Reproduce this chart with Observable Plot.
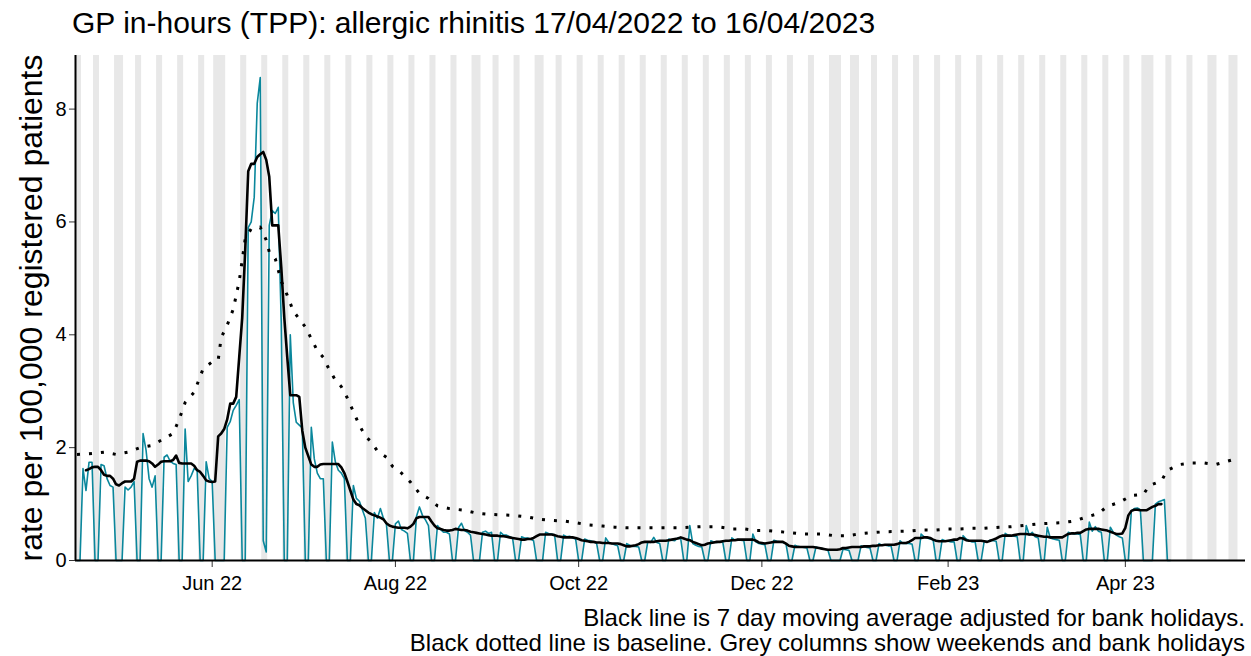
<!DOCTYPE html>
<html><head><meta charset="utf-8">
<script src="https://cdn.jsdelivr.net/npm/d3@7"></script>
<script src="https://cdn.jsdelivr.net/npm/@observablehq/plot@0.6"></script>
<style>
html,body{margin:0;padding:0;background:#fff;}
body{width:1251px;height:656px;overflow:hidden;font-family:"Liberation Sans",Arial,sans-serif;color:#000;}
#title{height:45px;line-height:45px;font-size:30px;padding-left:72px;white-space:nowrap;}
#chart{height:560px;}
#caption{font-size:24px;line-height:25px;text-align:right;padding-right:6px;white-space:nowrap;}
</style></head><body>
<div id="title">GP in-hours (TPP): allergic rhinitis 17/04/2022 to 16/04/2023</div>
<div id="chart"></div>
<div id="caption">Black line is 7 day moving average adjusted for bank holidays.<br>Black dotted line is baseline. Grey columns show weekends and bank holidays</div>
<script>
// ---- data (daily, starting Sunday 17/04/2022; rows are Sun..Sat) ----
const firstDay = "2022-04-17";
const dailyRate = [
0,0,1.63,1.24,1.74,1.74,0,
0,1.70,1.68,1.45,1.33,1.30,0,
0,0,1.30,1.25,1.30,1.40,0,
0,2.25,1.95,1.45,1.30,1.50,0,
0,1.83,1.87,1.76,1.72,1.70,0,
0,2.33,1.40,1.50,1.63,1.60,0,
0,1.75,1.45,1.40,0,0,0,
0,2.36,2.46,2.66,2.75,2.85,0,
0,5.90,6.00,6.44,8.10,8.56,0.35,
0.15,5.94,6.20,6.15,6.26,4.20,0,
0,4.00,2.80,2.45,2.40,2.35,0,
0,2.36,1.80,1.55,1.45,1.45,0,
0,2.10,1.75,1.60,1.55,1.45,0,
0,1.33,1.10,1.05,0.90,0.75,0,
0,0.85,0.75,0.92,0.75,0.65,0,
0,0.65,0.70,0.55,0.52,0.48,0,
0,0.78,0.95,0.80,0.72,0.62,0,
0,0.62,0.55,0.50,0.50,0.47,0,
0,0.58,0.66,0.53,0.50,0.45,0,
0,0,0.50,0.52,0.48,0.50,0,
0,0.50,0.45,0.45,0.42,0.40,0,
0,0.42,0.40,0.40,0.38,0.35,0,
0,0,0.50,0.48,0.47,0.45,0,
0,0.45,0.42,0.43,0.40,0.38,0,
0,0.38,0.36,0.35,0.33,0.30,0,
0,0.40,0.32,0.30,0.28,0.26,0,
0,0.30,0.27,0.25,0.25,0.24,0,
0,0.33,0.32,0.41,0.32,0.30,0,
0,0.38,0.36,0.35,0.40,0.38,0,
0,0.62,0.30,0.27,0.25,0.24,0,
0,0.35,0.33,0.32,0.33,0.32,0,
0,0.40,0.36,0.37,0.36,0.35,0,
0,0.47,0.33,0.30,0.29,0.28,0,
0,0.36,0.34,0.33,0.32,0.30,0,
0,0.27,0.25,0.24,0.23,0.22,0,
0,0.24,0.22,0.21,0.20,0.18,0,
0,0,0,0.20,0.19,0.18,0,
0,0,0.26,0.24,0.23,0.22,0,
0,0.30,0.27,0.27,0.26,0.26,0,
0,0.35,0.30,0.30,0.30,0.29,0,
0,0.47,0.42,0.40,0.38,0.37,0,
0,0.37,0.35,0.34,0.33,0.33,0,
0,0.44,0.38,0.35,0.33,0.33,0,
0,0.34,0.33,0.36,0.35,0.34,0,
0,0.48,0.45,0.44,0.43,0.42,0,
0,0.62,0.45,0.50,0.42,0.40,0,
0,0.59,0.40,0.38,0.37,0.36,0,
0,0.50,0.48,0.47,0.47,0.46,0,
0,0.68,0.52,0.60,0.52,0.50,0,
0,0.59,0.50,0.45,0.42,0.40,0,
0,0.88,0.92,0.93,0.90,0,0,
0,0,1.00,1.04,1.06,1.08,0,
0
];
const movingAverage = [
null,null,null,1.60,1.62,1.65,1.66,
1.66,1.60,1.52,1.50,1.50,1.45,1.35,
1.33,1.37,1.40,1.40,1.40,1.45,1.75,
1.77,1.77,1.77,1.76,1.72,1.66,1.70,
1.75,1.76,1.76,1.76,1.78,1.86,1.73,
1.72,1.72,1.72,1.72,1.68,1.60,1.57,
1.50,1.42,1.40,1.39,1.40,2.20,2.25,
2.33,2.50,2.78,2.78,2.90,3.60,4.30,
5.50,6.90,7.03,7.03,7.15,7.20,7.24,
7.10,6.80,5.94,5.94,5.94,5.20,4.31,
3.60,2.93,2.93,2.93,2.90,2.30,2.00,
1.85,1.70,1.66,1.66,1.70,1.71,1.71,
1.71,1.71,1.71,1.71,1.65,1.55,1.40,
1.24,1.08,1.00,0.98,0.93,0.89,0.85,
0.82,0.80,0.78,0.76,0.73,0.66,0.62,
0.60,0.59,0.58,0.58,0.58,0.57,0.60,
0.65,0.75,0.77,0.77,0.77,0.77,0.69,
0.62,0.57,0.56,0.54,0.53,0.53,0.54,
0.56,0.55,0.54,0.54,0.53,0.51,0.50,
0.49,0.48,0.47,0.46,0.45,0.44,0.44,
0.44,0.43,0.43,0.42,0.41,0.40,0.39,
0.38,0.37,0.37,0.38,0.38,0.40,0.43,
0.46,0.46,0.46,0.46,0.46,0.45,0.43,
0.42,0.41,0.41,0.41,0.41,0.40,0.38,
0.36,0.35,0.34,0.33,0.33,0.32,0.32,
0.31,0.31,0.31,0.30,0.30,0.30,0.29,
0.27,0.25,0.25,0.26,0.27,0.29,0.32,
0.33,0.33,0.33,0.33,0.34,0.35,0.35,
0.35,0.36,0.37,0.38,0.39,0.41,0.39,
0.37,0.36,0.33,0.31,0.29,0.27,0.28,
0.30,0.31,0.32,0.33,0.33,0.34,0.35,
0.35,0.36,0.36,0.37,0.37,0.37,0.37,
0.37,0.37,0.35,0.32,0.31,0.30,0.31,
0.32,0.33,0.33,0.33,0.33,0.30,0.26,
0.25,0.24,0.24,0.24,0.24,0.24,0.24,
0.24,0.23,0.22,0.21,0.20,0.19,0.19,
0.19,0.19,0.20,0.22,0.22,0.23,0.24,
0.24,0.24,0.24,0.25,0.25,0.25,0.26,
0.26,0.27,0.27,0.28,0.28,0.28,0.28,
0.29,0.31,0.31,0.31,0.33,0.36,0.40,
0.40,0.40,0.41,0.41,0.40,0.37,0.35,
0.34,0.34,0.34,0.35,0.36,0.37,0.37,
0.40,0.39,0.36,0.35,0.35,0.35,0.35,
0.35,0.34,0.33,0.35,0.37,0.39,0.42,
0.44,0.44,0.44,0.44,0.45,0.46,0.47,
0.47,0.47,0.46,0.46,0.45,0.44,0.43,
0.42,0.42,0.41,0.41,0.41,0.41,0.41,
0.44,0.47,0.48,0.48,0.49,0.49,0.52,
0.55,0.56,0.56,0.56,0.56,0.55,0.54,
0.53,0.51,0.49,0.47,0.47,0.48,0.58,
0.80,0.88,0.90,0.90,0.89,0.89,0.89,
0.92,0.95,0.97,1.00,1.00,null,null,
null
];
// baseline: day offset from 17/04/2022 and value
const baselineDay = [0,4,9,13,17,21,25,28,32,34,36,39,42,45,47,48,50,52,54,56,58,61,63,64,66,68,70,72,76,78,80,82,84,86,88,90,92,94,96,98,100,103,105,108,111,114,117,120,124,129,133,137,141,145,150,154,158,162,166,170,175,179,183,190,200,208,213,218,222,226,230,236,242,248,252,257,260,264,269,277,281,286,290,294,298,302,307,311,315,320,324,328,332,336,340,343,347,351,355,357,361,363,367,371,375,379,383,387];
const baselineRate = [1.88,1.89,1.92,1.88,1.92,2.0,2.04,2.13,2.25,2.5,2.8,2.98,3.4,3.52,3.55,3.95,4.17,4.45,4.95,5.7,5.88,5.91,5.68,5.47,5.35,4.95,4.7,4.42,4.14,3.93,3.72,3.6,3.38,3.2,3.08,2.88,2.64,2.4,2.2,2.1,1.94,1.83,1.67,1.55,1.39,1.19,1.1,0.97,0.92,0.89,0.84,0.82,0.81,0.8,0.77,0.73,0.71,0.7,0.67,0.63,0.61,0.59,0.58,0.58,0.58,0.6,0.6,0.56,0.56,0.53,0.53,0.5,0.47,0.47,0.44,0.44,0.47,0.49,0.51,0.52,0.54,0.54,0.56,0.56,0.57,0.57,0.59,0.6,0.62,0.65,0.66,0.67,0.7,0.77,0.83,0.96,1.03,1.15,1.17,1.33,1.41,1.6,1.7,1.73,1.73,1.7,1.76,1.82];
const bankHolidays = ["2022-04-18","2022-05-02","2022-06-02","2022-06-03","2022-08-29","2022-09-19","2022-12-26","2022-12-27","2023-01-02","2023-04-07","2023-04-10","2023-05-01","2023-05-08"];
const xTickDates = ["2022-06-01","2022-08-01","2022-10-01","2022-12-01","2023-02-01","2023-04-01"];
const yTicks = [0,2,4,6,8];
const axisEnd = "2023-05-11";
const yLabel = "rate per 100,000 registered patients";

// ---- build ----
const parse = d3.utcParse("%Y-%m-%d");
const fmt = d3.utcFormat("%Y-%m-%d");
const DAY = 864e5;
const t0 = +parse(firstDay);
const rows = dailyRate.map((v, i) => ({date: new Date(t0 + i * DAY), rate: v, avg: movingAverage[i]}));
const avgRows = rows.filter(d => d.avg != null);
const base = baselineDay.map((d, i) => ({date: new Date(t0 + d * DAY), value: baselineRate[i]}));
const xDomain = [new Date(t0 - DAY / 2), parse(axisEnd)];
const yMax = 8.95;
const bh = new Set(bankHolidays);
const greyRuns = [];
for (let t = t0; t < +xDomain[1]; t += DAY) {
  const day = new Date(t);
  const wd = day.getUTCDay();
  if (wd === 0 || wd === 6 || bh.has(fmt(day))) {
    const last = greyRuns[greyRuns.length - 1];
    if (last && +last.x2 === t - DAY / 2) last.x2 = new Date(t + DAY / 2);
    else greyRuns.push({x1: new Date(t - DAY / 2), x2: new Date(t + DAY / 2)});
  }
}

const chart = Plot.plot({
  width: 1251, height: 560,
  marginLeft: 75, marginRight: 6, marginTop: 10, marginBottom: 45,
  style: {fontFamily: "'Liberation Sans', Arial, sans-serif", fontSize: "20px", color: "#000", background: "#fff", overflow: "visible"},
  x: {type: "utc", domain: xDomain},
  y: {domain: [0, yMax]},
  marks: [
    Plot.rect(greyRuns, {x1: "x1", x2: "x2", y1: 0, y2: yMax, fill: "#e8e8e8"}),
    Plot.line(rows, {x: "date", y: "rate", stroke: "#0a879c", strokeWidth: 1.6}),
    Plot.line(avgRows, {x: "date", y: "avg", stroke: "#000", strokeWidth: 2.6}),
    Plot.line(base, {x: "date", y: "value", stroke: "#000", strokeWidth: 3, strokeDasharray: "3,9", strokeLinecap: "butt"}),
    Plot.axisX({ticks: xTickDates.map(parse), tickFormat: d3.utcFormat("%b %y"), tickSize: 7, tickPadding: 8, label: null, stroke: "#333", fill: "#000", fontSize: 20}),
    Plot.axisY({ticks: yTicks, tickSize: 6, tickPadding: 3, label: null, stroke: "#333", fill: "#000", fontSize: 20}),
    Plot.ruleY([0], {stroke: "#000", strokeWidth: 2}),
    Plot.ruleX([xDomain[0]], {stroke: "#000", strokeWidth: 2}),
    Plot.text([yLabel], {text: d => d, frameAnchor: "left", dx: -44, rotate: -90, textAnchor: "middle", lineAnchor: "middle", fontSize: 32, fill: "#000"})
  ]
});
document.getElementById("chart").appendChild(chart);
</script>
</body></html>
